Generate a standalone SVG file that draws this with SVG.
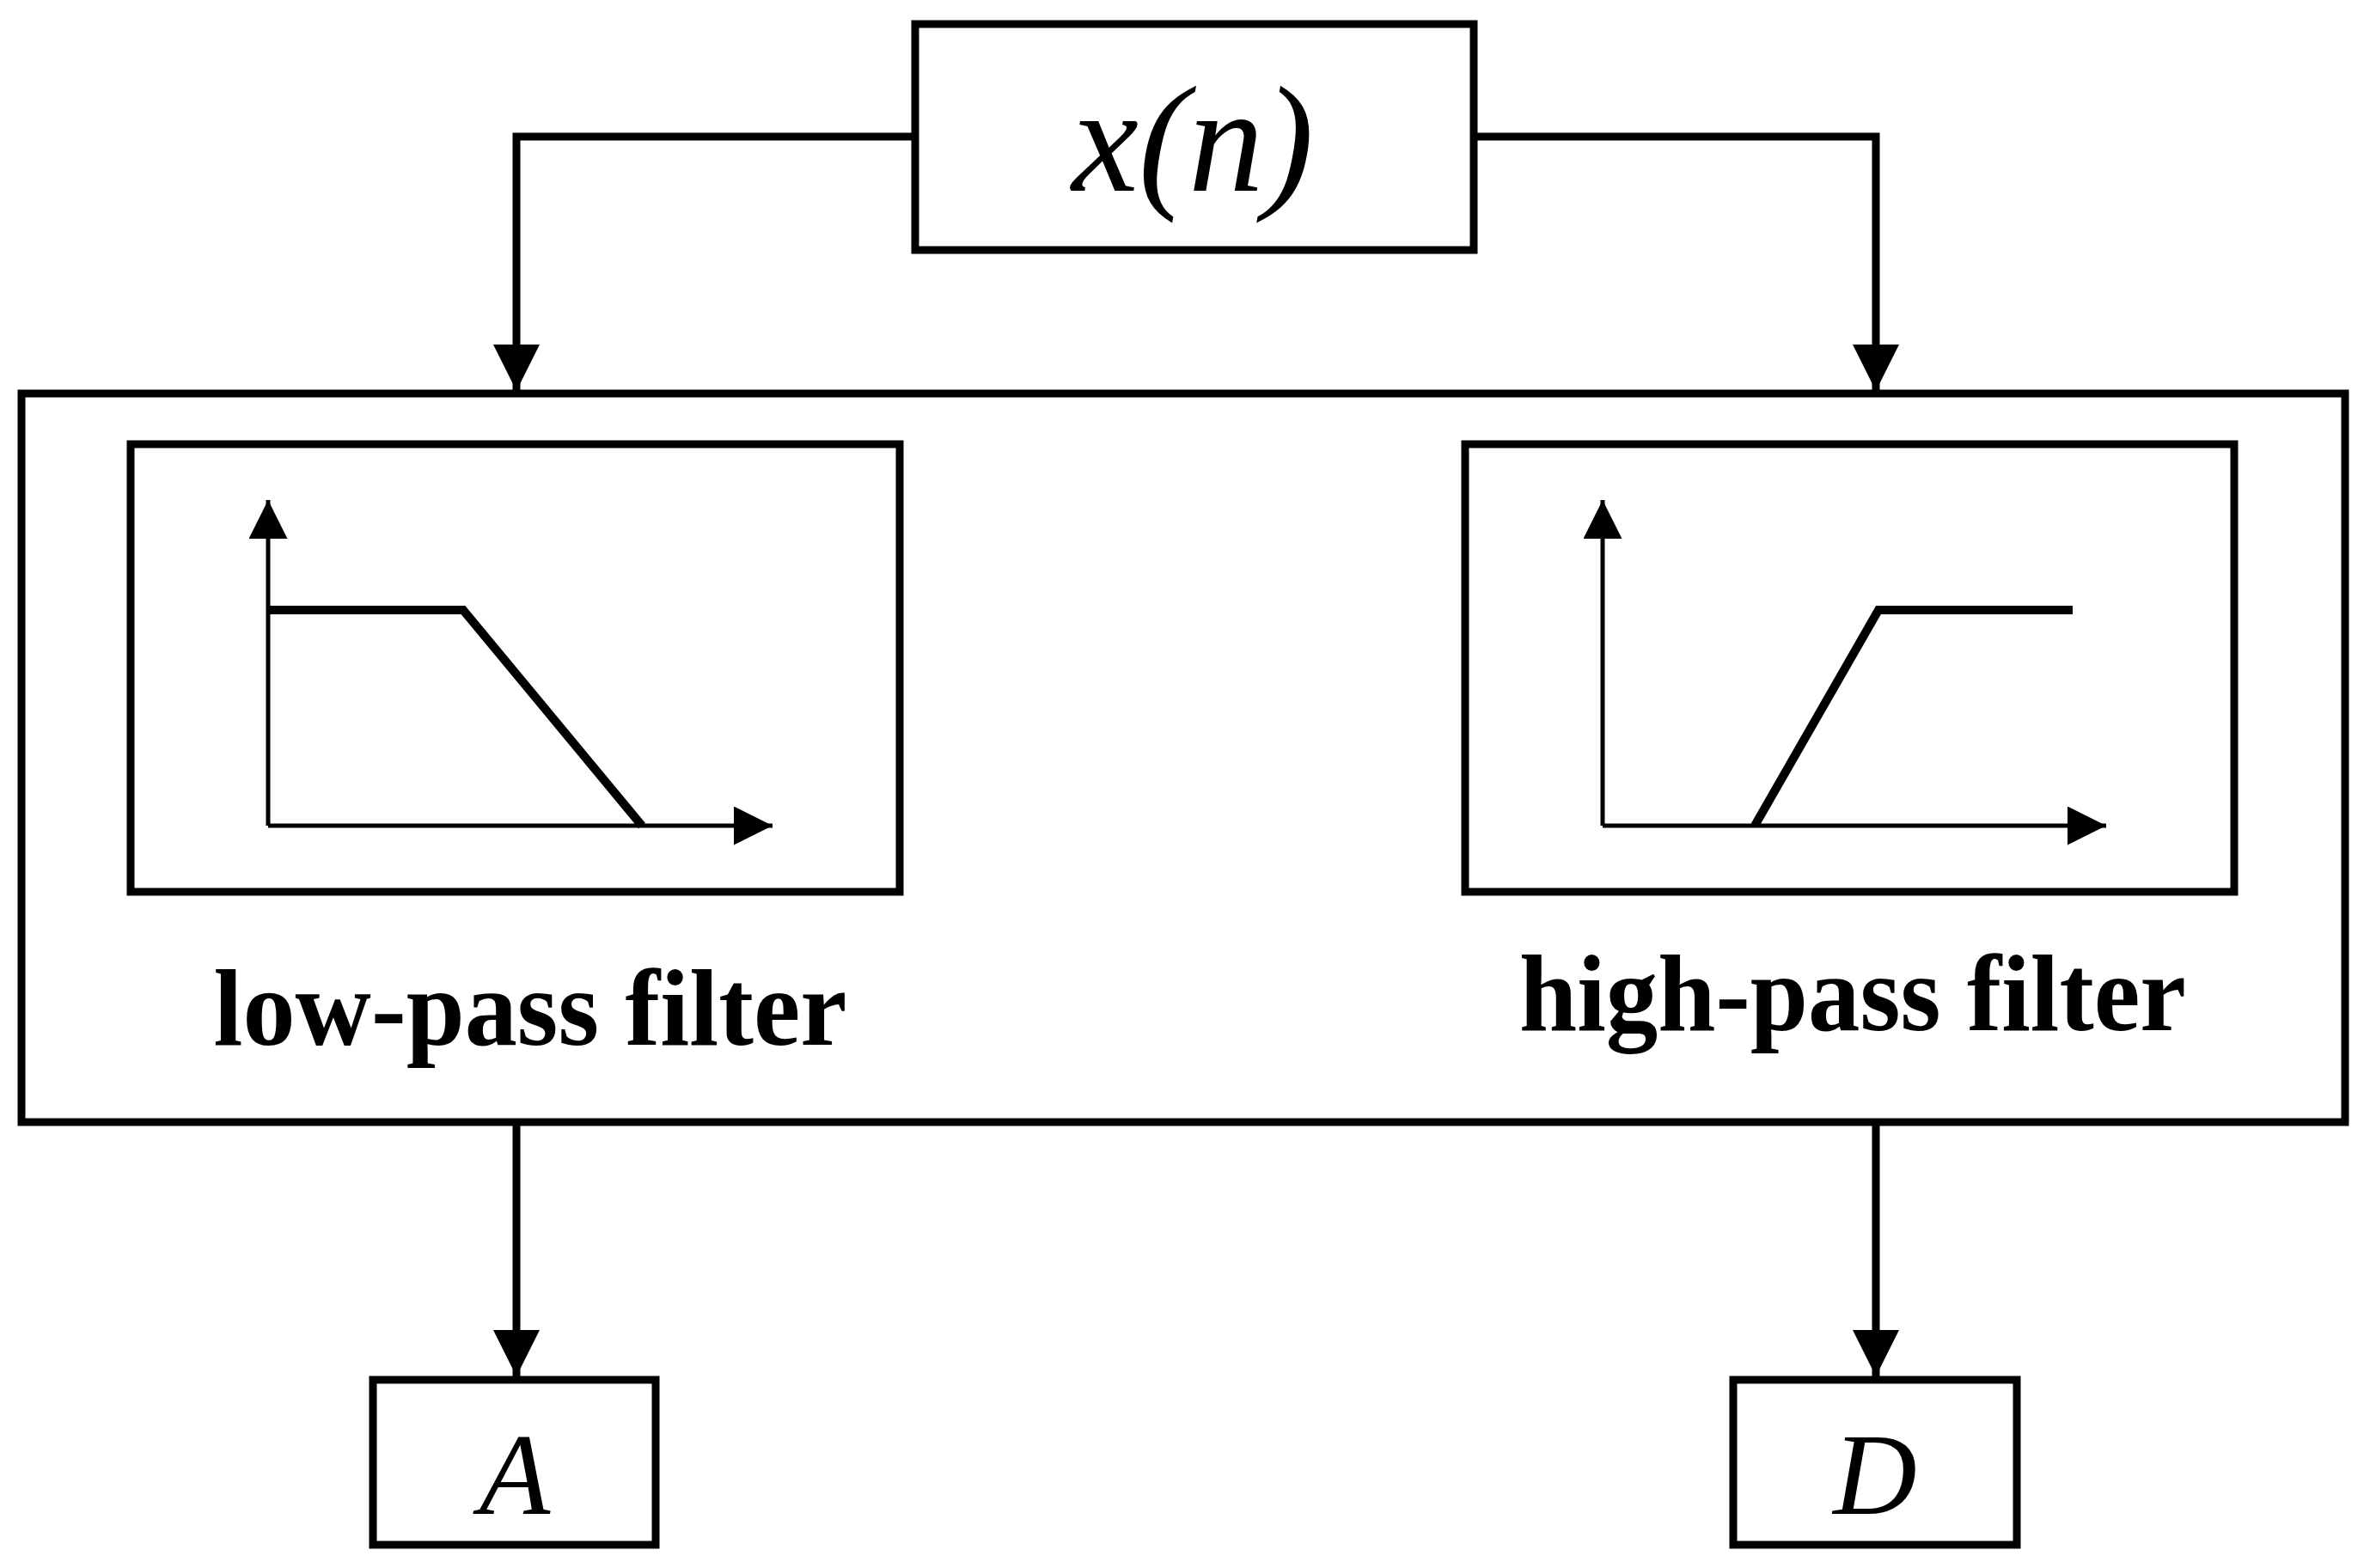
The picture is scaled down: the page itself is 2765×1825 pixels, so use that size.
<svg xmlns="http://www.w3.org/2000/svg" width="2765" height="1825" viewBox="0 0 2765 1825">
<style>
.b{fill:#fff;stroke:#000;stroke-width:9}
.c{fill:none;stroke:#000;stroke-width:9}
.ax{fill:none;stroke:#000;stroke-width:5}
.cv{fill:none;stroke:#000;stroke-width:10}
.m{font-family:"Liberation Serif",serif;font-style:italic;fill:#000}
.l{font-family:"Liberation Serif",serif;font-weight:bold;font-size:128px;fill:#000}
</style>
<defs>
<marker id="ah" viewBox="0 0 10 10" refX="10" refY="5" markerWidth="6" markerHeight="7" orient="auto" markerUnits="strokeWidth"><path d="M0,0L10,5L0,10z" fill="#000"/></marker>
<marker id="as" viewBox="0 0 10 10" refX="10" refY="5" markerWidth="9" markerHeight="9" orient="auto" markerUnits="strokeWidth"><path d="M0,0L10,5L0,10z" fill="#000"/></marker>
</defs>
<rect width="2765" height="1825" fill="#fff"/>
<g id="connectors">
<polyline class="c" points="1065,159 601,159 601,455" marker-end="url(#ah)"/>
<polyline class="c" points="1715,159 2183,159 2183,455" marker-end="url(#ah)"/>
<line class="c" x1="601" y1="1306" x2="601" y2="1602" marker-end="url(#ah)"/>
<line class="c" x1="2183" y1="1306" x2="2183" y2="1602" marker-end="url(#ah)"/>
</g>
<g id="xn"><rect class="b" x="1065" y="28" width="650" height="263"/><text class="m" x="1388" y="222" font-size="175" text-anchor="middle">x(n)</text></g>
<g id="filterbank"><rect class="b" x="25" y="458" width="2704" height="848"/></g>
<g id="lowpass">
<rect class="b" x="152" y="517" width="895" height="521"/>
<line class="ax" x1="312" y1="961" x2="312" y2="582" marker-end="url(#as)"/>
<line class="ax" x1="312" y1="961" x2="899" y2="961" marker-end="url(#as)"/>
<polyline class="cv" points="312,710 539,710 747,961"/>
<text class="l" x="617" y="1216" text-anchor="middle" textLength="737" lengthAdjust="spacingAndGlyphs">low-pass filter</text>
</g>
<g id="highpass">
<rect class="b" x="1705" y="517" width="895" height="521"/>
<line class="ax" x1="1865" y1="961" x2="1865" y2="582" marker-end="url(#as)"/>
<line class="ax" x1="1865" y1="961" x2="2451" y2="961" marker-end="url(#as)"/>
<polyline class="cv" points="2042,961 2186,710 2412,710"/>
<text class="l" x="2156" y="1199" text-anchor="middle" textLength="776" lengthAdjust="spacingAndGlyphs">high-pass filter</text>
</g>
<g id="A"><rect class="b" x="434" y="1606" width="329" height="192"/><text class="m" x="599" y="1762" font-size="135" text-anchor="middle">A</text></g>
<g id="D"><rect class="b" x="2017" y="1606" width="330" height="192"/><text class="m" x="2182" y="1762" font-size="135" text-anchor="middle">D</text></g>
</svg>
